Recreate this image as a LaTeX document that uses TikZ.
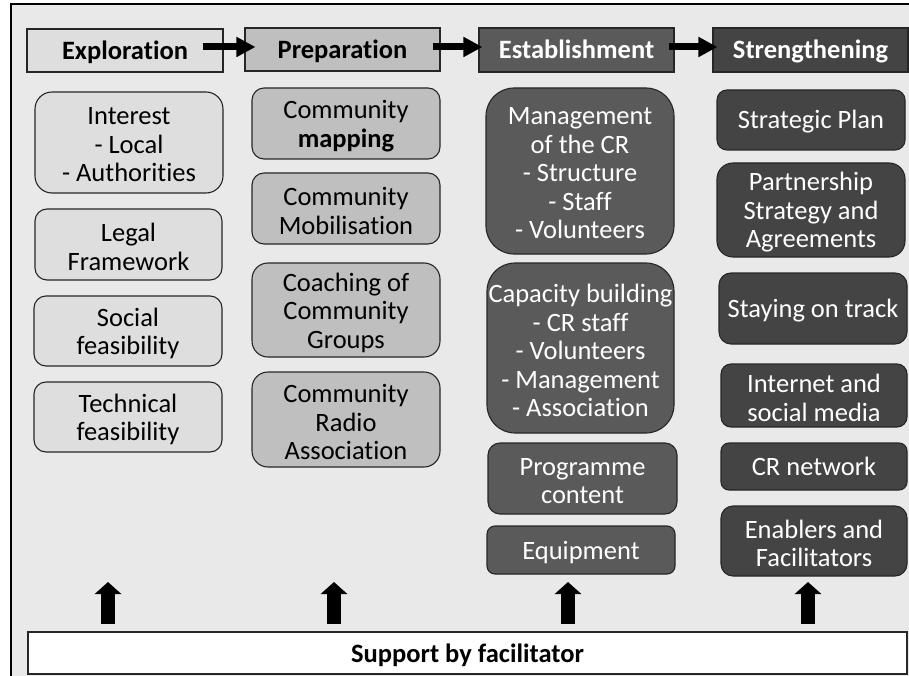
\documentclass[tikz,border=0pt]{standalone}
\usepackage{fontspec}
\setmainfont{Carlito}[Ligatures=NoCommon]
\usetikzlibrary{arrows.meta,calc}

\definecolor{panel}{HTML}{E9E9E9}
\definecolor{fillA}{HTML}{DEDEDE}
\definecolor{fillB}{HTML}{BFBFBF}
\definecolor{fillC}{HTML}{5A5A5A}
\definecolor{fillD}{HTML}{444444}
\definecolor{edge}{HTML}{262626}

\newcommand\bodyfont{\fontsize{26.5}{28.5}\selectfont}
\newcommand\headfont{\fontsize{26.5}{28.5}\selectfont\bfseries}

% box from (x1,y1) to (x2,y2), y measured downwards; text set on top of it
\newcommand\cellbox[8]{%
  \node[#6, minimum width={#4-#2}, minimum height={#5-#3}] (#1)
    at ({(#2+#4)/2},{(#3+#5)/2}) {};
  \node[#7] at (#1.center) {#8};}

\tikzset{
  cell/.style={draw=edge, line width=1.1pt, inner sep=0pt},
  txt/.style={inner sep=0pt, align=center, font=\bodyfont, yshift=-2.5pt},
  oneline/.style={inner sep=0pt, font=\bodyfont, text height=21pt, text depth=3pt},
  head/.style={oneline, font=\headfont},
  colA/.style={fill=fillA},
  colB/.style={fill=fillB},
  colC/.style={fill=fillC},
  colD/.style={fill=fillD},
  flow/.style={line width=7pt, -{Triangle[length=19pt,width=19pt]}},
  lift/.style={line width=13.5pt, -{Triangle[length=12pt,width=26pt]}},
}

\begin{document}
\begin{tikzpicture}[x=1pt, y=-1pt]
\useasboundingbox (0,0) rectangle (909,676);

% outer panel
\draw[fill=panel, line width=1.4pt] (11,4) rectangle (930,700);

% phase headers
\cellbox{hExp}{27}{29}{223}{72}{cell,colA}{head}{Exploration}
\cellbox{hPrep}{245}{28}{440}{71}{cell,colB}{head}{Preparation}
\cellbox{hEst}{479}{28}{674}{72}{cell,colC}{head,white}{Establishment}
\cellbox{hStr}{713}{28}{908}{72}{cell,colD}{head,white}{Strengthening}

\coordinate (rowA) at (0,47);
\draw[flow] ($(hExp.east |- rowA)+(-21,0)$) -- ($(hPrep.west |- rowA)+(11,0)$);
\draw[flow] ($(hPrep.east |- rowA)+(-8,0)$) -- ($(hEst.west |- rowA)+(4,0)$);
\draw[flow] ($(hEst.east |- rowA)+(-6,0)$) -- ($(hStr.west |- rowA)+(5,0)$);

% exploration
\cellbox{a1}{35}{92}{223}{193}{cell,colA,rounded corners=17pt}{txt}{Interest\\- Local\\- Authorities}
\cellbox{a2}{35}{209}{222}{280}{cell,colA,rounded corners=12pt}{txt}{Legal\\Framework}
\cellbox{a3}{34}{296}{222}{366}{cell,colA,rounded corners=12pt}{txt}{Social\\feasibility}
\cellbox{a4}{34}{382}{222}{452}{cell,colA,rounded corners=12pt}{txt}{Technical\\feasibility}

% preparation
\cellbox{b1}{252}{88}{440}{159}{cell,colB,rounded corners=12pt}{txt}{Community\\\textbf{mapping}}
\cellbox{b2}{252}{173}{440}{244}{cell,colB,rounded corners=12pt}{txt}{Community\\Mobilisation}
\cellbox{b3}{252}{263}{440}{357}{cell,colB,rounded corners=16pt}{txt}{Coaching of\\Community\\Groups}
\cellbox{b4}{252}{372}{440}{467}{cell,colB,rounded corners=16pt}{txt}{Community\\Radio\\Association}

% establishment
\cellbox{c1}{486}{88}{674}{254}{cell,colC,rounded corners=28pt}{txt,white}{Management\\of the CR\\- Structure\\- Staff\\- Volunteers}
\cellbox{c2}{487}{263}{674}{433}{cell,colC,rounded corners=28pt}{txt,white}{Capacity building\\- CR staff\\- Volunteers\\- Management\\- Association}
\cellbox{c3}{488}{443}{677}{514}{cell,colC,rounded corners=12pt}{txt,white}{Programme\\content}
\cellbox{c4}{487}{526}{675}{574}{cell,colC,rounded corners=8pt}{oneline,white}{Equipment}

% strengthening
\cellbox{d1}{717}{90}{905}{150}{cell,colD,rounded corners=10pt}{oneline,white}{Strategic Plan}
\cellbox{d2}{717}{163}{905}{257}{cell,colD,rounded corners=16pt}{txt,white}{Partnership\\Strategy and\\Agreements}
\cellbox{d3}{719}{273}{907}{344}{cell,colD,rounded corners=12pt}{oneline,white}{Staying on track}
\cellbox{d4}{721}{364}{907}{427}{cell,colD,rounded corners=10pt}{txt,white}{Internet and\\social media}
\cellbox{d5}{721}{443}{907}{490}{cell,colD,rounded corners=8pt}{oneline,white}{CR network}
\cellbox{d6}{721}{506}{907}{576}{cell,colD,rounded corners=12pt}{txt,white}{Enablers and\\Facilitators}

% facilitator support
\cellbox{support}{28}{632}{907}{674}{cell,fill=white}{head}{Support by facilitator}

\foreach \i/\x in {1/108,2/334,3/568,4/808}{
  \coordinate (base\i) at (\x,624);
  \coordinate (tip\i) at (\x,582);
  \draw[lift] (base\i) -- (tip\i);
}
\end{tikzpicture}
\end{document}
